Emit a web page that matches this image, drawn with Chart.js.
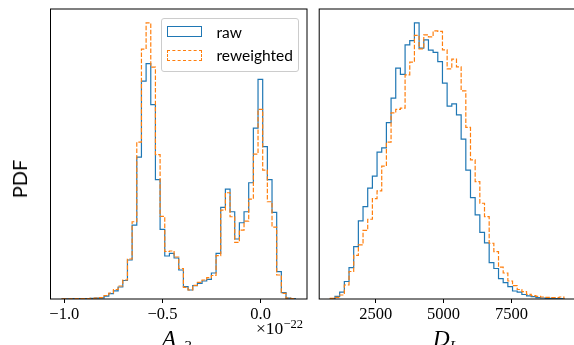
<!DOCTYPE html>
<html>
<head>
<meta charset="utf-8">
<script src="https://cdn.jsdelivr.net/npm/chart.js@4.4.1/dist/chart.umd.min.js"></script>
<style>
  body { margin:0; width:574px; height:345px; overflow:hidden; background:#fff; position:relative; }
  canvas { position:absolute; top:0; }
  #left { left:0; }
  #right { left:310px; }
  .txt { position:absolute; white-space:nowrap; color:#000; line-height:1; }
  #ylabel { font-family:Lato, sans-serif; font-size:20px; left:19px; top:179px; transform:translate(-50%,-50%) rotate(-90deg); }
  .math { font-family:"Liberation Serif", serif; font-style:italic; font-size:23px; }
  .math sub { font-style:normal; font-size:15px; vertical-align:-5px; line-height:0; }
  .math sub i { font-style:italic; }
  #offset { font-family:"Liberation Serif", serif; font-size:17.5px; left:256px; top:320px; }
  #offset sup { font-size:12.5px; vertical-align:6px; line-height:0; }
  .legend { position:absolute; left:160.5px; top:18px; width:136px; height:52px; border:1px solid #ccc; border-radius:3px; background:rgba(255,255,255,0.8); }
  .handle { position:absolute; left:5.5px; width:35px; height:11px; box-sizing:border-box; }
  .legend span { position:absolute; left:55px; font-family:Lato, sans-serif; font-size:15.5px; }
</style>
</head>
<body>
<canvas id="left" width="310" height="345"></canvas>
<canvas id="right" width="270" height="345"></canvas>

<div id="ylabel" class="txt">PDF</div>
<div class="txt math" style="left:162px; top:327px;">A<sub>−3</sub></div>
<div class="txt math" style="left:433px; top:327px;">D<sub><i>L</i></sub></div>
<div id="offset" class="txt">×10<sup>−22</sup></div>

<div class="legend">
  <div class="handle" style="top:7px; border:1.2px solid #1f77b4;"></div>
  <span class="txt" style="top:6px;">raw</span>
  <div class="handle" style="top:30.5px; border:1.2px dashed #ff7f0e;"></div>
  <span class="txt" style="top:29px;">reweighted</span>
</div>

<script>
// A_{-3} (units of 1e-22): histogram range and bin heights, 50 bins
const aRange = [-1.011, 0.177];
const aRaw = [0.2, 0.2, 0.3, 0.3, 0.4, 0.5, 0.6, 0.8, 1.2, 2.8,
  5.3, 8.2, 12, 18.5, 39, 74, 142, 218, 235.5, 194.5,
  119.5, 69.7, 43, 45.7, 41, 29, 12.3, 9, 13.3, 15.7,
  18, 19.7, 26, 45.7, 91.7, 110, 87.3, 60, 76.3, 87.3,
  116.3, 171, 219.7, 152.5, 119.5, 86.7, 27.3, 6.3, 0.8, 0.3];
const aReweighted = [0.2, 0.2, 0.3, 0.3, 0.4, 0.5, 0.6, 0.8, 1.4, 3.5,
  6, 9.5, 13, 19, 40, 77.3, 157, 250, 276.3, 232,
  144.5, 82.7, 47.5, 48, 42, 30.5, 11.7, 9, 13.7, 16.7,
  19, 21.3, 23.5, 43.3, 89, 106.3, 82.3, 56.7, 69, 78,
  100, 145, 189.7, 129, 97.3, 72, 24, 5.7, 0.8, 0.3];
const aTicks = [-1.0, -0.5, 0.0];
const aTickLabels = ['−1.0', '−0.5', '0.0'];

// D_L: histogram range and bin heights, 50 bins
const dRange = [830, 9430];
const dRaw = [0.5, 2.7, 6.8, 17.5, 31.3, 52.3, 78, 92.3, 110.7, 122.7,
  146.7, 151, 176.3, 200.7, 230.7, 224.5, 254, 258.2, 276, 250.7,
  259, 248.7, 246.5, 237.3, 215.7, 192.7, 195, 184, 159.8, 128.7,
  101.3, 84, 66.5, 56, 36.3, 30.5, 20.3, 16.3, 12.3, 8,
  6.8, 4.5, 3.2, 2.3, 1.3, 1, 0.7, 0.6, 0.4, 0.5];
const dReweighted = [0.7, 1.7, 4, 14, 27.5, 43.5, 54, 68.5, 79.7, 100.3,
  108, 132.7, 156.8, 186, 189.5, 190.7, 224, 236.7, 263.5, 250,
  264, 262, 268, 267.5, 249, 230, 239.7, 232, 208, 171.5,
  139, 117.3, 95.7, 82.3, 55.7, 47.3, 31.8, 26, 18, 13.3,
  9.5, 7.3, 4.7, 3.3, 2.7, 2, 1.7, 1.3, 1.3, 2];
const dTicks = [2500, 5000, 7500];
const dTickLabels = ['2500', '5000', '7500'];

// outline of a step histogram: baseline -> bars -> baseline
function stepPoints(range, heights) {
  const n = heights.length;
  const w = (range[1] - range[0]) / n;
  const pts = [{x: range[0], y: 0}];
  heights.forEach((h, i) => {
    pts.push({x: range[0] + i * w, y: h});
    pts.push({x: range[0] + (i + 1) * w, y: h});
  });
  pts.push({x: range[1], y: 0});
  return pts;
}

// box around the axes
const frame = {
  id: 'frame',
  afterDraw(chart) {
    const {ctx, chartArea: a} = chart;
    ctx.save();
    ctx.strokeStyle = '#000';
    ctx.lineWidth = 1;
    ctx.strokeRect(a.left, a.top, a.right - a.left, a.bottom - a.top);
    ctx.restore();
  }
};

function panel(id, range, raw, rew, xmin, xmax, ticks, labels, pad) {
  const ymax = Math.max(...raw, ...rew) * 1.05;
  new Chart(document.getElementById(id), {
    type: 'line',
    data: {
      datasets: [
        {
          label: 'raw',
          data: stepPoints(range, raw),
          borderColor: '#1f77b4',
          borderWidth: 1.2,
          pointRadius: 0,
          order: 2
        },
        {
          label: 'reweighted',
          data: stepPoints(range, rew),
          borderColor: '#ff7f0e',
          borderWidth: 1.2,
          borderDash: [4.5, 1.8],
          pointRadius: 0,
          order: 1
        }
      ]
    },
    options: {
      responsive: false,
      animation: false,
      layout: {padding: pad},
      plugins: {legend: {display: false}, tooltip: {enabled: false}},
      scales: {
        x: {
          type: 'linear',
          min: xmin,
          max: xmax,
          afterBuildTicks: s => { s.ticks = ticks.map(v => ({value: v})); },
          afterFit: s => { s.height = 46; s.paddingLeft = 0; s.paddingRight = 0; },
          ticks: {
            autoSkip: false,
            maxRotation: 0,
            padding: 2,
            color: '#000',
            font: {family: 'Liberation Serif', size: 16.5},
            callback: v => labels[ticks.indexOf(v)]
          },
          grid: {display: true, drawOnChartArea: false, drawTicks: true, tickLength: 4, tickColor: '#000', tickWidth: 1},
          border: {display: false}
        },
        y: {display: false, min: 0, max: ymax}
      }
    },
    plugins: [frame]
  });
}

panel('left', aRange, aRaw, aReweighted, -1.0704, 0.2364, aTicks, aTickLabels,
  {left: 50.5, right: 3, top: 9, bottom: 0});
panel('right', dRange, dRaw, dReweighted, 420, 9860, dTicks, dTickLabels,
  {left: 9.2, right: 4.4, top: 9, bottom: 0});
</script>
</body>
</html>
